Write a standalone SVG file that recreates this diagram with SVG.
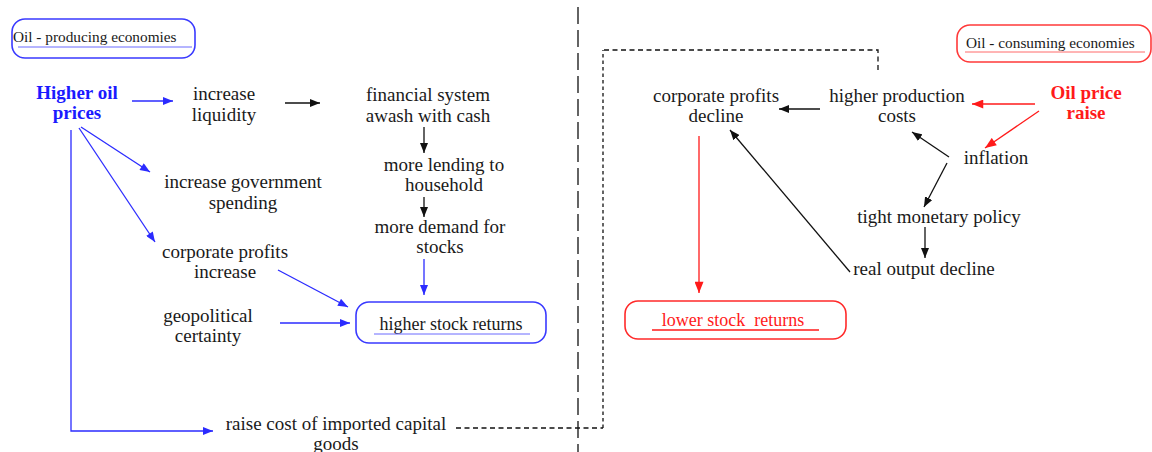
<svg xmlns="http://www.w3.org/2000/svg" width="1152" height="452" viewBox="0 0 1152 452">
<style>
text{font-family:"Liberation Serif","Times New Roman",serif;font-size:19px;fill:#1a1a1a;text-anchor:middle}
.bl{fill:#1a1aff;font-weight:bold}
.rd{fill:#ff1a1a;font-weight:bold}
.box{font-size:15.3px;text-anchor:start}
.bx18{font-size:18px}
.rt{fill:#ff1a1a;white-space:pre}
.c line,.c path{fill:none;stroke-width:1.3}
.k{stroke:#111}
.b{stroke:#2b2bff}
.r{stroke:#ff1a1a;stroke-width:1.6}
</style>
<defs>
<marker id="ak" viewBox="0 0 10 8" refX="10" refY="4" markerWidth="10" markerHeight="8" markerUnits="userSpaceOnUse" orient="auto"><path d="M0,0L10,4L0,8z" fill="#111"/></marker>
<marker id="ab" viewBox="0 0 10 8" refX="10" refY="4" markerWidth="11" markerHeight="8" markerUnits="userSpaceOnUse" orient="auto"><path d="M0,0L10,4L0,8z" fill="#2b2bff"/></marker>
<marker id="ar" viewBox="0 0 10 8" refX="10" refY="4" markerWidth="12" markerHeight="9" markerUnits="userSpaceOnUse" orient="auto"><path d="M0,0L10,4L0,8z" fill="#ff1a1a"/></marker>
</defs>
<rect width="1152" height="452" fill="#fff"/>

<g id="connectors" class="c">
<line x1="578" y1="7" x2="578" y2="452" stroke="#111" stroke-width="2.2" stroke-dasharray="17,6"/>
<path d="M456,428H603" stroke="#111" stroke-width="1.6" stroke-dasharray="5,3.5"/>
<path d="M603,428V50" stroke="#111" stroke-width="1.6" stroke-dasharray="3.5,3"/>
<path d="M604,50H878V73" stroke="#111" stroke-width="1.6" stroke-dasharray="5,3.5"/>
<line class="b" x1="132" y1="101" x2="173" y2="101" marker-end="url(#ab)"/>
<line class="k" x1="285" y1="103" x2="320" y2="103" marker-end="url(#ak)"/>
<line class="k" x1="424" y1="127" x2="424" y2="153" marker-end="url(#ak)"/>
<line class="k" x1="424" y1="197" x2="424" y2="217" marker-end="url(#ak)"/>
<line class="b" x1="424" y1="259" x2="424" y2="295" marker-end="url(#ab)"/>
<line class="b" x1="81" y1="127" x2="150" y2="172" marker-end="url(#ab)"/>
<line class="b" x1="79" y1="128" x2="155" y2="242" marker-end="url(#ab)"/>
<path class="b" d="M71,130V431H213" marker-end="url(#ab)"/>
<line class="b" x1="278" y1="270" x2="348" y2="307" marker-end="url(#ab)"/>
<line class="b" x1="280" y1="323" x2="350" y2="323" marker-end="url(#ab)"/>
<line class="r" x1="1035" y1="104" x2="972" y2="104" marker-end="url(#ar)"/>
<line class="r" x1="1039" y1="111" x2="985" y2="148" marker-end="url(#ar)"/>
<line class="k" x1="820" y1="109" x2="779" y2="109" stroke-width="1.8" marker-end="url(#ak)"/>
<line class="k" x1="949" y1="157" x2="912" y2="132" marker-end="url(#ak)"/>
<line class="k" x1="947" y1="163" x2="924" y2="207" marker-end="url(#ak)"/>
<line class="k" x1="925" y1="227" x2="925" y2="258" marker-end="url(#ak)"/>
<line class="k" x1="850" y1="272" x2="730" y2="130" marker-end="url(#ak)"/>
<line class="r" x1="699" y1="136" x2="699" y2="293" marker-end="url(#ar)"/>
</g>

<g id="n-producing">
<rect x="12" y="19" width="183" height="39" rx="13" fill="none" stroke="#3a3aff" stroke-width="1.6"/>
<text class="box" x="13" y="42">Oil - producing economies</text>
<line x1="18" y1="47" x2="192" y2="47" stroke="#6a6aff" stroke-width="1"/>
</g>
<g id="n-higher-oil"><text class="bl" x="77" y="99">Higher oil</text><text class="bl" x="77" y="119">prices</text></g>
<g id="n-liquidity"><text x="224" y="100">increase</text><text x="224" y="121">liquidity</text></g>
<g id="n-financial"><text x="428" y="101">financial system</text><text x="428" y="122">awash with cash</text></g>
<g id="n-lending"><text x="444" y="171">more lending to</text><text x="444" y="191">household</text></g>
<g id="n-demand"><text x="440" y="233">more demand for</text><text x="440" y="253">stocks</text></g>
<g id="n-gov"><text x="243" y="188">increase government</text><text x="243" y="209">spending</text></g>
<g id="n-corp-inc"><text x="225" y="258">corporate profits</text><text x="225" y="278">increase</text></g>
<g id="n-geo"><text x="208" y="322">geopolitical</text><text x="208" y="342">certainty</text></g>
<g id="n-higher-returns">
<rect x="356" y="302" width="190" height="41" rx="13" fill="none" stroke="#3a3aff" stroke-width="1.6"/>
<text class="bx18" x="451" y="330">higher stock returns</text>
<line x1="374" y1="334" x2="530" y2="334" stroke="#6a6aff" stroke-width="1"/>
</g>
<g id="n-capital"><text x="336" y="430">raise cost of imported capital</text><text x="336" y="450">goods</text></g>

<g id="n-consuming">
<rect x="957" y="25" width="194" height="37" rx="13" fill="none" stroke="#ff3a3a" stroke-width="1.6"/>
<text class="box" x="966" y="48">Oil - consuming economies</text>
<line x1="965" y1="52" x2="1145" y2="52" stroke="#ff6a6a" stroke-width="1"/>
</g>
<g id="n-oil-price"><text class="rd" x="1086" y="99">Oil price</text><text class="rd" x="1086" y="119">raise</text></g>
<g id="n-production"><text x="897" y="102">higher production</text><text x="897" y="122">costs</text></g>
<g id="n-corp-dec"><text x="716" y="102">corporate profits</text><text x="716" y="122">decline</text></g>
<g id="n-inflation"><text x="996" y="164">inflation</text></g>
<g id="n-tight"><text x="939" y="223">tight monetary policy</text></g>
<g id="n-real"><text x="924" y="275">real output decline</text></g>
<g id="n-lower-returns">
<rect x="625" y="301" width="221" height="38" rx="13" fill="none" stroke="#ff2a2a" stroke-width="1.6"/>
<text class="bx18 rt" x="733" y="326">lower stock  returns</text>
<line x1="652" y1="330" x2="819" y2="330" stroke="#ff1a1a" stroke-width="1.3"/>
</g>
</svg>
